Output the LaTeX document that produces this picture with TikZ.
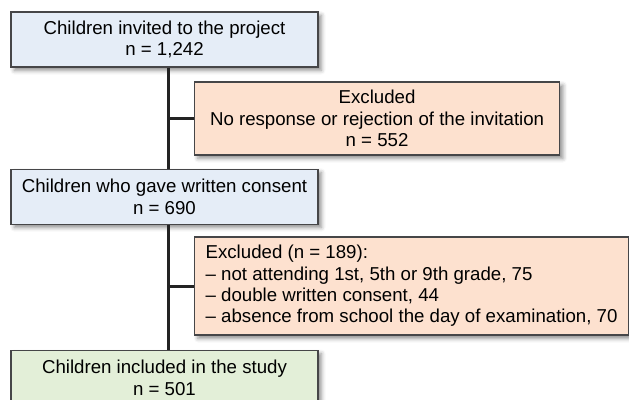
\documentclass[tikz,border=0pt]{standalone}
\usepackage{fontspec}
\setmainfont{Liberation Sans}
\usetikzlibrary{positioning,shadows.blur}
\definecolor{boxLine}{RGB}{70,70,72}
\definecolor{invBlue}{RGB}{229,237,247}
\definecolor{exclPeach}{RGB}{253,225,207}
\definecolor{inclGreen}{RGB}{227,239,216}
\definecolor{trunkInk}{RGB}{35,35,35}
\tikzset{
  box/.style={draw=boxLine, line width=0.7pt, align=center, inner sep=0pt,
    font=\fontsize{11.2}{12.8}\selectfont,
    blur shadow={shadow xshift=2pt, shadow yshift=-2pt, shadow blur radius=2.5pt, shadow opacity=45}},
  mainbox/.style={box, fill=invBlue, minimum width=184.2pt, minimum height=33pt},
  inclbox/.style={mainbox, fill=inclGreen},
  exclbox/.style={box, fill=exclPeach, minimum height=43.8pt},
  trunk/.style={line width=1.8pt, draw=trunkInk}
}

\begin{document}
\begin{tikzpicture}[x=0.6pt, y=-0.6pt]
    \useasboundingbox (0,0) rectangle (629,399);
    \node[mainbox] (inv) at (164.5,39.5) {Children invited to the project\\n = 1,242};
    \node[mainbox, below=60.6pt of inv] (cons) {Children who gave written consent\\n = 690};
    \node[inclbox, below=75pt of cons] (incl) {Children included in the study\\n = 501};
    \node[exclbox, anchor=west, minimum width=219pt] (excl1) at (194,118.5)
      {Excluded\\No response or rejection of the invitation\\n = 552};
    \node[exclbox, anchor=west, minimum width=260.4pt, minimum height=58.8pt, align=left] (excl2) at (194,286)
      {Excluded (n = 189):\\
       -- not attending 1st, 5th or 9th grade, 75\\
       -- double written consent, 44\\
       -- absence from school the day of examination, 70};
    % trunk sits a little right of the box centres
    \draw[trunk] ([xshift=2.4pt]inv.south) -- ([xshift=2.4pt]cons.north);
    \draw[trunk] ([xshift=2.4pt]cons.south) -- ([xshift=2.4pt]incl.north);
    \draw[trunk] ([xshift=2.4pt]inv.south |- excl1.west) -- (excl1.west);
    \draw[trunk] ([xshift=2.4pt]cons.south |- excl2.west) -- (excl2.west);
\end{tikzpicture}
\end{document}
